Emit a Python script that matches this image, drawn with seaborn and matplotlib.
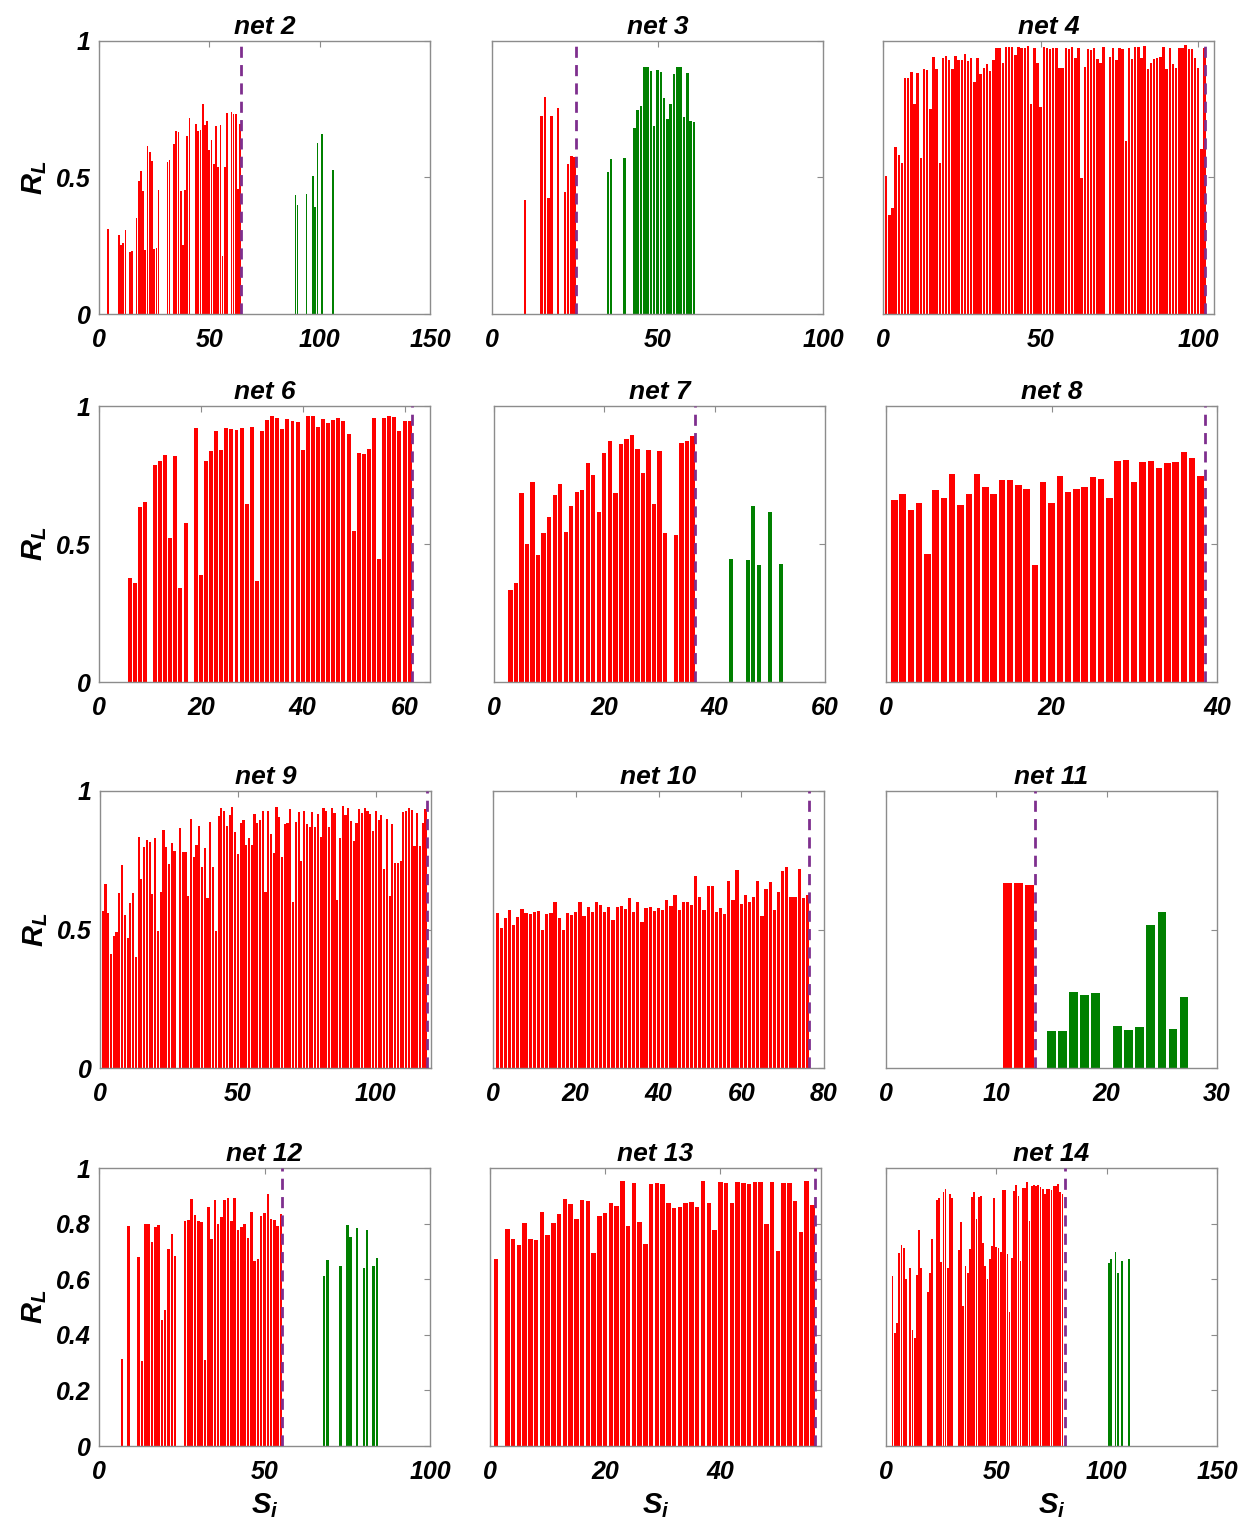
import numpy as np
import pandas as pd
import matplotlib
matplotlib.use("Agg")
import matplotlib.pyplot as plt
import seaborn as sns

# ---------------- data (bar heights, consecutive S_i from a start index; 0 = no bar) -------------
NET2_RED_START = 4
NET2_RED = [0.313, 0, 0, 0, 0, 0.29, 0.254, 0.26, 0.307, 0, 0.226, 0.229, 0, 0.35, 0.488, 0.524,
            0.452, 0.233, 0.616, 0.593, 0.559, 0.237, 0.241, 0.456, 0, 0, 0, 0.556, 0.565, 0,
            0.624, 0.67, 0.666, 0.449, 0.254, 0.456, 0.652, 0.718, 0, 0, 0.695, 0.672, 0.673,
            0.768, 0.693, 0.707, 0.601, 0.638, 0.551, 0.688, 0.537, 0.694, 0.213, 0.539, 0.737,
            0, 0.739, 0.732, 0.733, 0.459, 0.696]
NET2_GREEN_START = 89
NET2_GREEN = [0.435, 0.401, 0, 0, 0, 0.441, 0, 0, 0.505, 0.393, 0.627, 0, 0.66, 0, 0, 0, 0, 0.528]

NET3_RED_START = 10
NET3_RED = [0.417, 0, 0, 0, 0, 0.726, 0.794, 0.424, 0.726, 0, 0.755, 0, 0.448, 0.55, 0.579, 0.576]
NET3_GREEN_START = 35
NET3_GREEN = [0.521, 0.567, 0, 0, 0, 0.572, 0, 0, 0.682, 0.746, 0.762, 0.904, 0.905, 0.891,
              0.69, 0.894, 0.885, 0.79, 0.713, 0.77, 0.878, 0.905, 0.905, 0.722, 0.883, 0.706, 0.704]

NET4_RED_START = 1
NET4_RED = [0.504, 0.363, 0.388, 0.613, 0.582, 0.552, 0.863, 0.863, 0.887, 0.768,
            0.883, 0.573, 0.898, 0.893, 0.751, 0.94, 0.898, 0.552, 0.939, 0.944,
            0.932, 0.899, 0.944, 0.93, 0.932, 0.952, 0.927, 0.937, 0.85, 0.938,
            0.879, 0.9, 0.915, 0.891, 0.929, 0.976, 0.974, 0.92, 0.977, 0.979,
            0.978, 0.948, 0.978, 0.973, 0.973, 0.982, 0.768, 0.973, 0.921, 0.76,
            0.978, 0.976, 0.972, 0.976, 0.976, 0.902, 0.902, 0.976, 0.97, 0.978,
            0.937, 0.976, 0.499, 0.905, 0.972, 0.967, 0.973, 0.935, 0.918, 0.979,
            0, 0.94, 0.973, 0.93, 0.974, 0.972, 0.632, 0.976, 0.933, 0.979,
            0.979, 0.937, 0.98, 0.898, 0.918, 0.934, 0.939, 0.941, 0.979, 0.898,
            0.976, 0.917, 0.901, 0.976, 0.976, 0.984, 0.972, 0.97, 0.939, 0.9,
            0.604, 0.976]
NET4_GREEN_START = 0
NET4_GREEN = []

NET6_RED_START = 6
NET6_RED = [0.378, 0.359, 0.633, 0.652, 0, 0.788, 0.801, 0.824, 0.522, 0.819, 0.341, 0.576, 0,
            0.919, 0.387, 0.801, 0.836, 0.91, 0.842, 0.919, 0.915, 0.914, 0.922, 0.645, 0.924,
            0.365, 0.91, 0.95, 0.964, 0.955, 0.916, 0.954, 0.947, 0.943, 0.84, 0.962, 0.964,
            0.925, 0.953, 0.939, 0.948, 0.955, 0.945, 0.9, 0.548, 0.828, 0.825, 0.845, 0.955,
            0.446, 0.955, 0.962, 0.96, 0.909, 0.947, 0.947]
NET6_GREEN_START = 0
NET6_GREEN = []

NET7_RED_START = 3
NET7_RED = [0.332, 0.36, 0.684, 0.499, 0.724, 0.459, 0.54, 0.599, 0.678, 0.717, 0.545, 0.637,
            0.689, 0.697, 0.793, 0.749, 0.617, 0.83, 0.874, 0.686, 0.863, 0.879, 0.896, 0.846,
            0.757, 0.84, 0.646, 0.837, 0.539, 0, 0.531, 0.866, 0.874, 0.891]
NET7_GREEN_START = 43
NET7_GREEN = [0.444, 0, 0, 0.442, 0.636, 0.424, 0, 0.617, 0, 0.429]

NET8_RED_START = 1
NET8_RED = [0.661, 0.681, 0.624, 0.647, 0.462, 0.696, 0.667, 0.752, 0.642, 0.682,
            0.752, 0.707, 0.682, 0.731, 0.731, 0.712, 0.698, 0.424, 0.724, 0.647,
            0.747, 0.687, 0.701, 0.708, 0.743, 0.735, 0.668, 0.801, 0.804, 0.726,
            0.796, 0.799, 0.776, 0.795, 0.798, 0.832, 0.81, 0.747]
NET8_GREEN_START = 0
NET8_GREEN = []

NET9_RED_START = 1
NET9_RED = [0.567, 0.666, 0.559, 0.413, 0.478, 0.49, 0.63, 0.733, 0.554, 0.471,
            0.594, 0.63, 0.401, 0.833, 0.682, 0.798, 0.822, 0.817, 0.627, 0.829,
            0.495, 0.636, 0.858, 0.798, 0.736, 0.811, 0.782, 0, 0.866, 0.78,
            0.781, 0.62, 0.898, 0.763, 0.806, 0.872, 0.725, 0.795, 0.612, 0.888,
            0.725, 0.493, 0.908, 0.939, 0.927, 0.872, 0.913, 0.942, 0.852, 0.772,
            0.883, 0.896, 0.804, 0.83, 0.805, 0.918, 0.884, 0.896, 0.928, 0.634,
            0.929, 0.845, 0.775, 0.941, 0.905, 0.76, 0.882, 0.883, 0.934, 0.601,
            0.889, 0.924, 0.748, 0.928, 0.88, 0.869, 0.923, 0.869, 0.917, 0.835,
            0.937, 0.928, 0.869, 0.937, 0.919, 0.606, 0.829, 0.947, 0.912, 0.939,
            0.89, 0.819, 0.884, 0.936, 0.919, 0.937, 0.928, 0.916, 0.855, 0.928,
            0.895, 0.914, 0.719, 0.898, 0.62, 0.881, 0.74, 0.74, 0.746, 0.924,
            0.927, 0.937, 0.93, 0.8, 0.92, 0.8, 0.883, 0.935]
NET9_GREEN_START = 0
NET9_GREEN = []

NET10_RED_START = 1
NET10_RED = [0.559, 0.505, 0.543, 0.571, 0.517, 0.545, 0.573, 0.559, 0.555, 0.563,
             0.567, 0.498, 0.555, 0.558, 0.601, 0.54, 0.498, 0.558, 0.554, 0.563,
             0.599, 0.548, 0.583, 0.563, 0.598, 0.588, 0.563, 0.582, 0.535, 0.582,
             0.584, 0.573, 0.614, 0.563, 0.598, 0.527, 0.576, 0.58, 0.567, 0.577,
             0.569, 0.608, 0.584, 0.623, 0.569, 0.6, 0.601, 0.588, 0.693, 0.618,
             0.572, 0.657, 0.657, 0.563, 0.578, 0.555, 0.676, 0.605, 0.714, 0.592,
             0.624, 0.598, 0.616, 0.676, 0.548, 0.647, 0.67, 0.57, 0.635, 0.711,
             0.724, 0.617, 0.619, 0.718, 0.613, 0.625]
NET10_GREEN_START = 0
NET10_GREEN = []

NET11_RED_START = 11
NET11_RED = [0.668, 0.667, 0.66]
NET11_GREEN_START = 15
NET11_GREEN = [0.133, 0.133, 0.276, 0.264, 0.272, 0, 0.153, 0.137, 0.148, 0.517, 0.564, 0.141, 0.258]

NET12_RED_START = 7
NET12_RED = [0.312, 0, 0.792, 0, 0, 0.679, 0.304, 0.798, 0.798, 0.733, 0.786, 0.795, 0.454,
             0.489, 0.707, 0.761, 0.683, 0, 0, 0.81, 0.813, 0.887, 0.831, 0.81, 0.806, 0.31,
             0.861, 0.744, 0.884, 0.8, 0.822, 0.885, 0.893, 0.809, 0.892, 0.778, 0.786, 0.8,
             0.749, 0.842, 0.664, 0.673, 0.826, 0.837, 0.905, 0.818, 0.813, 0.79, 0.836]
NET12_GREEN_START = 68
NET12_GREEN = [0.613, 0.67, 0, 0, 0, 0.647, 0, 0.796, 0.751, 0, 0.784, 0, 0.642, 0.777, 0, 0.648, 0.677]

NET13_RED_START = 1
NET13_RED = [0.671, 0, 0.78, 0.744, 0.724, 0.802, 0.744, 0.741, 0.842, 0.759,
             0.801, 0.834, 0.888, 0.87, 0.818, 0.885, 0.88, 0.695, 0.828, 0.838,
             0.875, 0.864, 0.954, 0.791, 0.947, 0.804, 0.726, 0.942, 0.945, 0.944,
             0.873, 0.855, 0.861, 0.874, 0.878, 0.861, 0.954, 0.874, 0.776, 0.948,
             0.946, 0.873, 0.951, 0.945, 0.942, 0.95, 0.95, 0.8, 0.95, 0.703,
             0.947, 0.947, 0.882, 0.771, 0.953, 0.866]
NET13_GREEN_START = 0
NET13_GREEN = []

NET14_RED_START = 3
NET14_RED = [0.611, 0.407, 0.444, 0.696, 0.722, 0.711, 0.599, 0, 0.64, 0.419, 0.389, 0.615,
             0.776, 0.64, 0, 0, 0.555, 0.621, 0.746, 0, 0.885, 0.893, 0.663, 0.913, 0.926,
             0.64, 0.905, 0.893, 0, 0, 0.705, 0.804, 0.505, 0.646, 0.623, 0.709, 0.897, 0.913,
             0.815, 0.895, 0.9, 0.729, 0.647, 0.601, 0.674, 0.718, 0.893, 0.715, 0.714, 0.699,
             0.922, 0.922, 0.689, 0.481, 0.678, 0.916, 0.938, 0.901, 0.666, 0.927, 0.927, 0.95,
             0.81, 0.937, 0.94, 0.937, 0.938, 0.931, 0.925, 0.908, 0.925, 0.925, 0.922, 0.937,
             0.937, 0.944, 0.915, 0.908]
NET14_GREEN_START = 101
NET14_GREEN = [0.658, 0.672, 0, 0.699, 0.624, 0, 0.666, 0, 0, 0.672]

TITLES = ["net 2", "net 3", "net 4", "net 6", "net 7", "net 8",
          "net 9", "net 10", "net 11", "net 12", "net 13", "net 14"]
CUTS = [64.5, 25.4, 102.3, 61.4, 36.4, 38.5, 118.4, 76.3, 13.5, 55.3, 56.4, 81.3]
XMAX = [150, 100, 105, 65, 60, 40, 120, 80, 30, 100, 57.5, 150]
XTICKS = [[0, 50, 100, 150], [0, 50, 100], [0, 50, 100], [0, 20, 40, 60], [0, 20, 40, 60],
          [0, 20, 40], [0, 50, 100], [0, 20, 40, 60, 80], [0, 10, 20, 30], [0, 50, 100],
          [0, 20, 40], [0, 50, 100, 150]]
YTICKS_TOP = [0, 0.5, 1]
YTICKS_BOTTOM = [0, 0.2, 0.4, 0.6, 0.8, 1]

RED_STARTS = [NET2_RED_START, NET3_RED_START, NET4_RED_START, NET6_RED_START, NET7_RED_START,
              NET8_RED_START, NET9_RED_START, NET10_RED_START, NET11_RED_START, NET12_RED_START,
              NET13_RED_START, NET14_RED_START]
REDS = [NET2_RED, NET3_RED, NET4_RED, NET6_RED, NET7_RED, NET8_RED, NET9_RED, NET10_RED,
        NET11_RED, NET12_RED, NET13_RED, NET14_RED]
GREEN_STARTS = [NET2_GREEN_START, NET3_GREEN_START, NET4_GREEN_START, NET6_GREEN_START,
                NET7_GREEN_START, NET8_GREEN_START, NET9_GREEN_START, NET10_GREEN_START,
                NET11_GREEN_START, NET12_GREEN_START, NET13_GREEN_START, NET14_GREEN_START]
GREENS = [NET2_GREEN, NET3_GREEN, NET4_GREEN, NET6_GREEN, NET7_GREEN, NET8_GREEN, NET9_GREEN,
          NET10_GREEN, NET11_GREEN, NET12_GREEN, NET13_GREEN, NET14_GREEN]

# ---------------- style ----------------
sns.set_style("white")
plt.rcParams["font.family"] = ["Liberation Sans", "DejaVu Sans"]
plt.rcParams["font.weight"] = "bold"
plt.rcParams["font.style"] = "italic"
plt.rcParams["mathtext.fontset"] = "custom"
plt.rcParams["mathtext.it"] = "Liberation Sans:italic:bold"
plt.rcParams["mathtext.rm"] = "Liberation Sans:italic:bold"
plt.rcParams["axes.unicode_minus"] = False
plt.rcParams["text.color"] = "black"
plt.rcParams["axes.labelcolor"] = "black"
plt.rcParams["axes.titlecolor"] = "black"

RED = "#ff0000"
GREEN = "#008000"
PURPLE = "#7e2f8e"
SPINE = "#8c8c8c"

W, H = 1248, 1530
fig = plt.figure(figsize=(W / 100, H / 100), dpi=100)

ROWS = [(41, 314), (406, 682), (791, 1068), (1168, 1446)]
LEFTS = [[99, 492, 883], [99, 494, 886], [100, 493, 886], [99, 490, 886]]
WIDTH = 331

for k in range(12):
    r, c = divmod(k, 3)
    top, bot = ROWS[r]
    left = LEFTS[r][c]
    ax = fig.add_axes([left / W, 1 - bot / H, WIDTH / W, (bot - top) / H])

    xs, ys, grp = [], [], []
    for i, v in enumerate(REDS[k]):
        if v > 0:
            xs.append(RED_STARTS[k] + i); ys.append(v); grp.append("in")
    for i, v in enumerate(GREENS[k]):
        if v > 0:
            xs.append(GREEN_STARTS[k] + i); ys.append(v); grp.append("out")
    df = pd.DataFrame({"S": xs, "R": ys, "grp": grp})

    sns.barplot(data=df, x="S", y="R", hue="grp", hue_order=["in", "out"],
                palette={"in": RED, "out": GREEN}, native_scale=True, dodge=False,
                width=0.78, saturation=1, errorbar=None, legend=False,
                linewidth=0, ax=ax)

    ax.axvline(CUTS[k], color=PURPLE, linestyle=(0, (4, 2.6)), linewidth=2.0, zorder=5)

    ax.set_xlim(0, XMAX[k])
    ax.set_ylim(0, 1)
    ax.set_xticks(XTICKS[k])
    ax.set_xticklabels([str(t) for t in XTICKS[k]])
    yt = YTICKS_BOTTOM if r == 3 else YTICKS_TOP
    ax.set_yticks(yt)
    ax.set_yticklabels([("%g" % t) for t in yt])

    for s in ax.spines.values():
        s.set_visible(True)
        s.set_color(SPINE)
        s.set_linewidth(1.0)
    ax.tick_params(direction="in", length=4, width=0.8, color=SPINE, top=True, right=True,
                   labelsize=18, labelcolor="black")
    ax.tick_params(axis="x", pad=10)
    ax.tick_params(axis="y", pad=6)
    if c != 0:
        ax.tick_params(labelleft=False)
    ax.set_title(TITLES[k], fontsize=19, fontweight="bold", fontstyle="italic", pad=5,
                 color="black")
    ax.set_xlabel("")
    ax.set_ylabel("")
    if c == 0:
        ax.set_ylabel("$R_L$", fontsize=21, labelpad=5)
    if r == 3:
        ax.set_xlabel("$S_i$", fontsize=21, labelpad=5)
    ax.grid(False)

fig.savefig("out.png", dpi=100, facecolor="white")
